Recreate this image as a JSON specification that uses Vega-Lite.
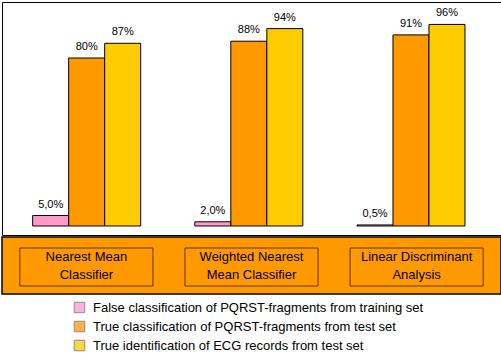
{
  "$schema": "https://vega.github.io/schema/vega-lite/v6.json",
  "padding": {"left": 1, "top": 1, "right": 1, "bottom": 0},
  "background": "white",
  "spacing": 0,
  "datasets": {
    "bars": [
      {"classifier": "Nearest Mean Classifier", "series": "False classification of PQRST-fragments from training set", "value": 5.0, "label": "5,0%"},
      {"classifier": "Nearest Mean Classifier", "series": "True classification of PQRST-fragments from test set", "value": 80, "label": "80%"},
      {"classifier": "Nearest Mean Classifier", "series": "True identification of ECG records from test set", "value": 87, "label": "87%"},
      {"classifier": "Weighted Nearest Mean Classifier", "series": "False classification of PQRST-fragments from training set", "value": 2.0, "label": "2,0%"},
      {"classifier": "Weighted Nearest Mean Classifier", "series": "True classification of PQRST-fragments from test set", "value": 88, "label": "88%"},
      {"classifier": "Weighted Nearest Mean Classifier", "series": "True identification of ECG records from test set", "value": 94, "label": "94%"},
      {"classifier": "Linear Discriminant Analysis", "series": "False classification of PQRST-fragments from training set", "value": 0.5, "label": "0,5%"},
      {"classifier": "Linear Discriminant Analysis", "series": "True classification of PQRST-fragments from test set", "value": 91, "label": "91%"},
      {"classifier": "Linear Discriminant Analysis", "series": "True identification of ECG records from test set", "value": 96, "label": "96%"}
    ],
    "cats": [
      {"classifier": "Nearest Mean Classifier", "name": "Nearest Mean\nClassifier"},
      {"classifier": "Weighted Nearest Mean Classifier", "name": "Weighted Nearest\nMean Classifier"},
      {"classifier": "Linear Discriminant Analysis", "name": "Linear Discriminant\nAnalysis"}
    ]
  },
  "vconcat": [
    {
      "width": 499,
      "height": 233,
      "data": {"name": "bars"},
      "encoding": {
        "x": {"field": "classifier", "type": "nominal", "sort": ["Nearest Mean Classifier", "Weighted Nearest Mean Classifier", "Linear Discriminant Analysis"], "scale": {"paddingInner": 0.334, "paddingOuter": 0.2057, "align": 0.46}, "axis": null},
        "xOffset": {"field": "series", "type": "nominal", "sort": ["False classification of PQRST-fragments from training set", "True classification of PQRST-fragments from test set", "True identification of ECG records from test set"], "scale": {"paddingInner": 0, "paddingOuter": 0}},
        "y": {"field": "value", "type": "quantitative", "scale": {"domain": [-4.286, 106.67], "zero": false, "nice": false}, "axis": null}
      },
      "layer": [
        {
          "mark": {"type": "bar", "stroke": "black", "strokeWidth": 1},
          "encoding": {
            "y2": {"datum": 0},
            "color": {
              "field": "series", "type": "nominal",
              "scale": {"domain": ["False classification of PQRST-fragments from training set", "True classification of PQRST-fragments from test set", "True identification of ECG records from test set"], "range": ["#FF99CC", "#FF9900", "#FFCC00"]},
              "legend": {
                "title": null, "orient": "none", "legendX": 71, "legendY": 299, "direction": "vertical",
                "symbolType": "square", "symbolSize": 110, "symbolStrokeColor": "#666666", "symbolStrokeWidth": 1, "symbolOpacity": 0.75,
                "labelFont": "Liberation Sans", "labelFontSize": 13, "labelColor": "black", "labelLimit": 400, "labelOffset": 7, "rowPadding": 4
              }
            }
          }
        },
        {
          "mark": {"type": "text", "baseline": "alphabetic", "dy": -8, "font": "Liberation Sans", "fontSize": 11, "color": "black"},
          "encoding": {"text": {"field": "label"}}
        }
      ]
    },
    {
      "width": 499,
      "height": 57,
      "data": {"name": "cats"},
      "view": {"fill": "#FF9900", "stroke": "black", "strokeWidth": 1.5},
      "encoding": {
        "x": {"field": "classifier", "type": "nominal", "sort": ["Nearest Mean Classifier", "Weighted Nearest Mean Classifier", "Linear Discriminant Analysis"], "scale": {"paddingInner": 0.194, "paddingOuter": 0.108}, "axis": null}
      },
      "layer": [
        {
          "mark": {"type": "rect", "fill": "#FF9900", "stroke": "#663300", "strokeWidth": 1},
          "encoding": {
            "y": {"datum": 0.807, "type": "quantitative", "scale": {"domain": [0, 1], "nice": false, "zero": false}, "axis": null},
            "y2": {"datum": 0.14}
          }
        },
        {
          "mark": {"type": "text", "lineBreak": "\n", "lineHeight": 18, "baseline": "middle", "font": "Liberation Sans", "fontSize": 13, "color": "black"},
          "encoding": {
            "y": {"datum": 0.65, "type": "quantitative"},
            "text": {"field": "name"}
          }
        }
      ]
    }
  ],
  "resolve": {"scale": {"x": "independent", "y": "independent", "xOffset": "independent"}},
  "config": {"view": {"stroke": "black", "strokeWidth": 1}}
}
